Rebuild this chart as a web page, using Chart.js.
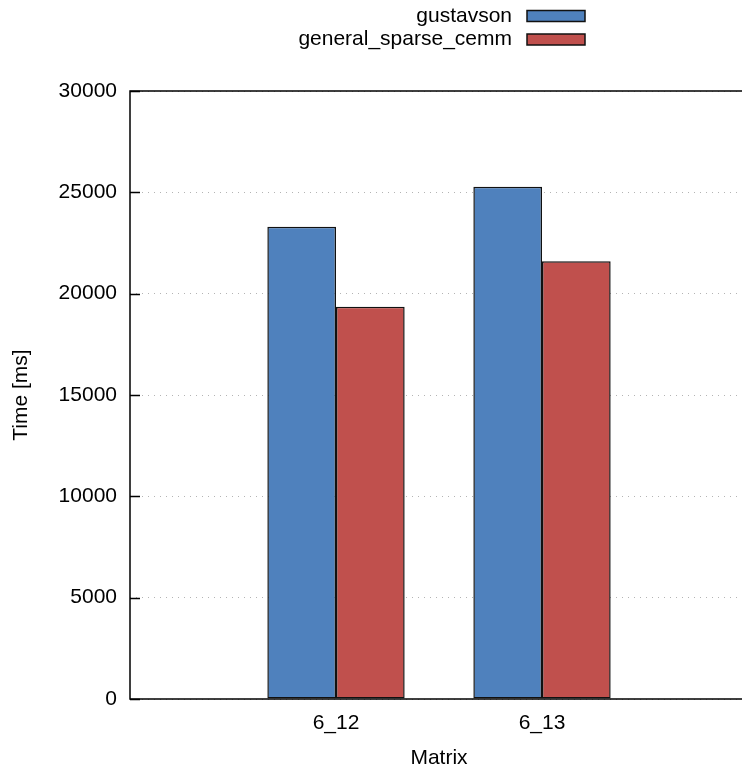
<!DOCTYPE html>
<html>
<head>
<meta charset="utf-8">
<script src="https://cdn.jsdelivr.net/npm/chart.js@4.4.0/dist/chart.umd.min.js"></script>
<style>
    html, body { margin: 0; padding: 0; background: #fff; overflow: hidden; }
    #wrap { width: 760px; height: 771px; position: relative; }
</style>
</head>
<body>
<div id="wrap"><canvas id="chart"></canvas></div>
<script>
// data
const categories = ['6_12', '6_13'];
const seriesNames = ['gustavson', 'general_sparse_cemm'];
const gustavson = [23300, 25280];
const generalSparseCemm = [19350, 21600];
const yTicks = [0, 5000, 10000, 15000, 20000, 25000, 30000];

const colors = ['#4f81bd', '#c0504d'];
const FONT = '"Liberation Sans", Arial, sans-serif';

// gnuplot leaves one empty slot on each side of the histogram
const labels = [''].concat(categories, ['']);
const pad = arr => [null].concat(arr, [null]);

// gnuplot style frame, inward y tics and the key in the top right
const gnuplotFrame = {
    id: 'gnuplotFrame',
    afterDraw(chart) {
        const { ctx, chartArea: a, scales } = chart;
        ctx.save();
        ctx.strokeStyle = '#000';
        ctx.lineWidth = 1.5;
        ctx.strokeRect(a.left, a.top, a.right - a.left, a.bottom - a.top);
        ctx.beginPath();
        yTicks.forEach(v => {
            const y = Math.round(scales.y.getPixelForValue(v)) + 0.5;
            ctx.moveTo(a.left, y);
            ctx.lineTo(a.left + 10, y);
        });
        ctx.stroke();

        // key
        ctx.font = '21px ' + FONT;
        ctx.textAlign = 'right';
        ctx.textBaseline = 'middle';
        seriesNames.forEach((name, i) => {
            const cy = 16 + i * 23.5;
            ctx.fillStyle = '#000';
            ctx.fillText(name, 512, cy);
            ctx.fillStyle = colors[i];
            ctx.fillRect(527, cy - 5.5, 58, 11);
            ctx.lineWidth = 1.5;
            ctx.strokeStyle = '#111';
            ctx.strokeRect(527, cy - 5.5, 58, 11);
        });
        ctx.restore();
    }
};

new Chart(document.getElementById('chart'), {
    type: 'bar',
    data: {
        labels: labels,
        datasets: [
            { label: seriesNames[0], data: pad(gustavson), backgroundColor: colors[0] },
            { label: seriesNames[1], data: pad(generalSparseCemm), backgroundColor: colors[1] }
        ]
    },
    options: {
        responsive: true,
        maintainAspectRatio: false,
        animation: false,
        devicePixelRatio: 1,
        layout: { padding: { left: 0, top: 91, right: 9.5, bottom: 0 } },
        datasets: {
            bar: {
                categoryPercentage: 2 / 3,
                barPercentage: 1,
                borderWidth: 1.5,
                borderColor: '#111',
                borderSkipped: false
            }
        },
        plugins: {
            legend: { display: false },
            tooltip: { enabled: false }
        },
        scales: {
            x: {
                offset: false,
                grid: { display: false, drawTicks: false },
                border: { display: false },
                ticks: {
                    color: '#000',
                    padding: 12,
                    maxRotation: 0,
                    autoSkip: false,
                    font: { family: FONT, size: 21 }
                },
                title: {
                    display: true,
                    text: 'Matrix',
                    color: '#000',
                    padding: { top: 0, bottom: 0 },
                    font: { family: FONT, size: 21 }
                },
                afterFit(scale) { scale.height = 72; }
            },
            y: {
                min: 0,
                max: 30000,
                afterBuildTicks(scale) { scale.ticks = yTicks.map(v => ({ value: v })); },
                grid: {
                    color: '#b4b4b4',
                    lineWidth: 1,
                    drawTicks: false
                },
                border: { display: false, dash: [1, 5] },
                ticks: {
                    color: '#000',
                    padding: 13,
                    font: { family: FONT, size: 21 },
                    callback: v => String(v)
                },
                title: {
                    display: true,
                    text: 'Time [ms]',
                    color: '#000',
                    padding: { top: 9, bottom: 0 },
                    font: { family: FONT, size: 21 }
                },
                afterFit(scale) { scale.width = 130; }
            }
        }
    },
    plugins: [gnuplotFrame]
});
</script>
</body>
</html>
